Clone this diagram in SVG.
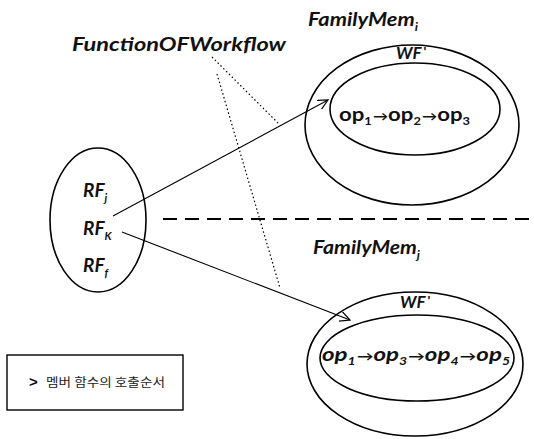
<svg xmlns="http://www.w3.org/2000/svg" width="534" height="439" viewBox="0 0 534 439">
  <style>
    .shape { fill: none; stroke: #000; stroke-width: 1.6; }
    .lbl { font-family: "Lato", "Liberation Sans", sans-serif; font-weight: bold; font-style: italic; fill: #111; }
    .op { font-family: "Lato", "Liberation Sans", sans-serif; font-weight: bold; fill: #111; }
    .sub { font-size: 11px; }
    .prime { font-family: "Liberation Sans", sans-serif; font-style: normal; font-weight: bold; font-size: 12px; }
    .link { stroke: #000; stroke-width: 1.1; fill: none; }
    .dot { stroke: #000; stroke-width: 1.2; stroke-dasharray: 1.5 2.5; fill: none; }
    .sep { stroke: #000; stroke-width: 2; stroke-dasharray: 14 8; }
    .legend { font-family: "Noto Sans CJK KR", sans-serif; font-size: 12px; fill: #222; }
  </style>
  <defs>
    <marker id="open" markerWidth="12" markerHeight="12" refX="10" refY="5" orient="auto" markerUnits="userSpaceOnUse">
      <path d="M0,0 L10,5 L0,10" fill="none" stroke="#000" stroke-width="1.2"/>
    </marker>
  </defs>

  <rect width="534" height="439" fill="#fff"/>

  <!-- caption of the function set -->
  <text class="lbl" x="72" y="51" font-size="18" textLength="214" lengthAdjust="spacingAndGlyphs">FunctionOFWorkflow</text>

  <!-- set of reachable functions -->
  <g id="rf-set">
    <ellipse class="shape" cx="98" cy="220" rx="48" ry="72"/>
    <text class="lbl" x="83" y="197" font-size="19">RF<tspan class="sub" dy="5">j</tspan></text>
    <text class="lbl" x="83" y="235" font-size="19">RF<tspan class="sub" dy="5">K</tspan></text>
    <text class="lbl" x="83" y="272" font-size="19">RF<tspan class="sub" dy="5">f</tspan></text>
  </g>

  <!-- family member i -->
  <g id="family-i">
    <text class="lbl" x="308" y="26" font-size="18" textLength="110" lengthAdjust="spacingAndGlyphs">FamilyMem<tspan class="sub" dy="5">i</tspan></text>
    <ellipse class="shape" cx="412" cy="125" rx="107" ry="80"/>
    <text class="lbl" x="396" y="59" font-size="17">WF<tspan class="prime" dx="2" dy="-3">'</tspan></text>
    <ellipse class="shape" cx="415" cy="109" rx="85" ry="46"/>
    <text class="op" x="339" y="121" font-size="19" textLength="131" lengthAdjust="spacingAndGlyphs">op<tspan class="sub" dy="4">1</tspan><tspan dy="-4" font-size="13" dx="1">→</tspan>op<tspan class="sub" dy="4">2</tspan><tspan dy="-4" font-size="13" dx="1">→</tspan>op<tspan class="sub" dy="4">3</tspan></text>
  </g>

  <!-- family member j -->
  <g id="family-j">
    <text class="lbl" x="313" y="254" font-size="18" textLength="107" lengthAdjust="spacingAndGlyphs">FamilyMem<tspan class="sub" dy="5">j</tspan></text>
    <ellipse class="shape" cx="415" cy="364" rx="108" ry="72"/>
    <text class="lbl" x="400" y="308" font-size="17">WF<tspan class="prime" dx="2" dy="-3">'</tspan></text>
    <ellipse class="shape" cx="417" cy="358" rx="97" ry="43"/>
    <text class="op" x="322" y="361" font-size="19" font-style="italic" textLength="188" lengthAdjust="spacingAndGlyphs">op<tspan class="sub" dy="4">1</tspan><tspan dy="-4" font-size="13" dx="1">→</tspan>op<tspan class="sub" dy="4">3</tspan><tspan dy="-4" font-size="13" dx="1">→</tspan>op<tspan class="sub" dy="4">4</tspan><tspan dy="-4" font-size="13" dx="1">→</tspan>op<tspan class="sub" dy="4">5</tspan></text>
  </g>

  <!-- legend -->
  <g id="legend">
    <rect x="7" y="355" width="176" height="55" fill="none" stroke="#000" stroke-width="1.4"/>
    <text x="29" y="387" font-family="Liberation Sans, sans-serif" font-weight="bold" font-size="15" fill="#111">&gt;</text>
    <text class="legend" x="46" y="387" textLength="119" lengthAdjust="spacingAndGlyphs">멤버 함수의 호출순서</text>
  </g>

  <!-- connectors -->
  <g id="connectors">
    <line class="sep" x1="163" y1="219" x2="534" y2="219"/>
    <line class="dot" x1="212" y1="57" x2="280" y2="125"/>
    <line class="dot" x1="217" y1="74" x2="280" y2="288"/>
    <line class="link" x1="113" y1="216" x2="328" y2="100" marker-end="url(#open)"/>
    <line class="link" x1="122" y1="232" x2="350" y2="320" marker-end="url(#open)"/>
  </g>
</svg>
